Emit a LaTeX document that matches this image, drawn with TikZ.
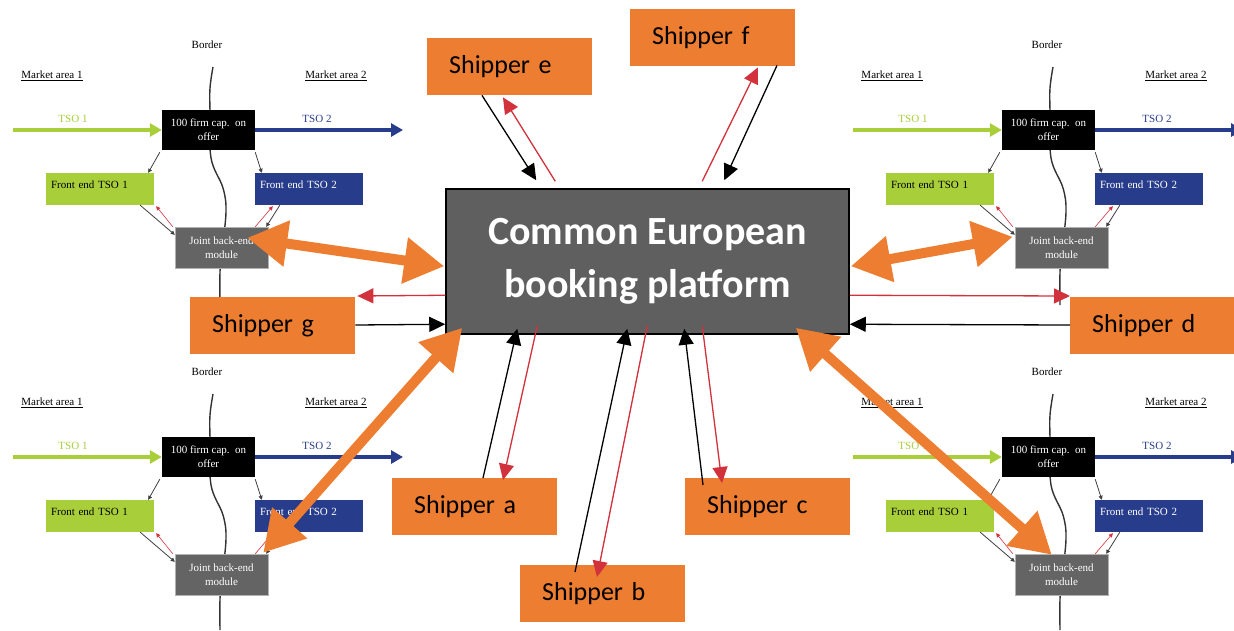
\documentclass[tikz,border=0pt]{standalone}
\usepackage{fontspec}
\setmainfont{Liberation Serif}
\newfontfamily\calib{Carlito}
\usetikzlibrary{arrows.meta,calc}
\definecolor{og}{HTML}{ED7D31}
\definecolor{lg}{RGB}{168,206,58}
\definecolor{db}{RGB}{40,60,140}
\definecolor{cg}{RGB}{95,95,95}
\definecolor{jg}{RGB}{100,100,100}
\definecolor{rd}{RGB}{210,50,60}
\begin{document}
\begin{tikzpicture}[x=1pt,y=-1pt,
  sm/.style={font=\fontsize{11}{14}\selectfont, inner sep=0pt},
  shipper/.style={fill=og, anchor=north west, minimum height=57pt, text width=121pt,
    inner xsep=22pt, inner ysep=0pt, align=left, font=\calib\fontsize{26}{30}\selectfont},
  blk/.style={draw=black, line width=1.3pt, -{Triangle[length=16pt,width=15pt]}},
  red/.style={draw=rd, line width=1.3pt, -{Triangle[length=16pt,width=15pt]}},
  sblk/.style={draw=black!75, line width=0.8pt, -{Triangle[length=4pt,width=4pt]}},
  sred/.style={draw=rd, line width=0.6pt, -{Triangle[length=4pt,width=4pt]}},
  tso/.style={line width=4pt, -{Triangle[length=12pt,width=13pt]}},
  bline/.style={draw=black!80, line width=1.4pt},
  oarr/.style={draw=og, line width=10pt,
    {Triangle[length=40pt,width=44pt]}-{Triangle[length=40pt,width=44pt]}}]
\useasboundingbox[fill=white] (0,0) rectangle (1234,630);
\clip (0,0) rectangle (1234,630);

\foreach \p/\dx/\dy/\e in {tl/0/0/305,tr/840/0/305,bl/0/327/303,br/840/327/303}{
\begin{scope}[shift={(\dx,\dy)}]
  \draw[bline] plot[smooth, tension=0.6] coordinates {(213,67) (210,88) (210,112) (211,158) (223,188) (226,212) (222,250) (220,272) (220,\e)};
  \node[sm] (\p bord) at (207,45) {Border};
  \node[sm] (\p ma1) at (52,76) {\underline{Market area 1}};
  \node[sm] (\p ma2) at (336,76) {\underline{Market area 2}};
  \node[sm, text=lg] (\p t1) at (73,119) {TSO 1};
  \node[sm, text=db] (\p t2) at (317,119) {TSO 2};
  \node[sm, fill=black, minimum width=93pt, minimum height=40pt, text=white, align=center]
    (\p box) at (208.5,130) {100 firm cap.~~on\\offer};
  \node[sm, fill=lg, minimum height=32pt, text width=98pt, inner xsep=5pt, align=left, text depth=8pt]
    (\p fe1) at (100,189) {Front end TSO 1};
  \node[sm, fill=db, minimum height=32pt, text width=98pt, inner xsep=5pt, align=left, text depth=8pt, text=white]
    (\p fe2) at (309,189) {Front end TSO 2};
  \node[sm, fill=jg, draw=black!30, minimum width=93pt, minimum height=41pt, text=white!90, align=center]
    (\p jbm) at (221.5,247.5) {Joint back-end\\module};
  \coordinate (\p tsos) at (13,130);
  \coordinate (\p tsoe) at (403,130);
  \draw[tso, lg] (\p tsos) -- (\p box.west);
  \draw[tso, db] (\p box.east) -- (\p tsoe);
  \draw[sblk] ($(\p box.south west)+(-2,2)$) -- ($(\p fe1.north east)+(-6,0)$);
  \draw[sblk] ($(\p box.south east)+(0,2)$) -- ($(\p fe2.north west)+(7,0)$);
  \draw[sblk] ($(\p fe1.south east)+(-14,0)$) -- ($(\p jbm.north west)+(0,8)$);
  \draw[sred] ($(\p jbm.north west)+(-2,0)$) -- ($(\p fe1.south east)+(2,1)$);
  \draw[sblk] ($(\p fe2.south west)+(25,0)$) -- ($(\p jbm.north east)+(-2,0)$);
  \draw[sred] ($(\p jbm.north east)+(-13,0)$) -- ($(\p fe2.south west)+(18,1)$);
\end{scope}
}

\node[draw=black, line width=1.5pt, fill=cg, minimum width=403pt, minimum height=145pt,
  text=white, align=center, font=\calib\bfseries\fontsize{40}{53}\selectfont]
  (cebp) at (647.5,261.5) {Common European\\booking platform};

\node[shipper] (se) at (427,38) {Shipper e};
\node[shipper] (sf) at (630,9) {Shipper f};
\node[shipper] (sg) at (190,297) {Shipper g};
\node[shipper] (sd) at (1070,297) {Shipper d};
\node[shipper] (sa) at (392,478) {Shipper a};
\node[shipper] (sb) at (520,565) {Shipper b};
\node[shipper] (sc) at (685,478) {Shipper c};

% shipper e
\draw[blk] ($(se.south west)+(55,0)$) -- ($(cebp.north west)+(91,-8)$);
\draw[red] ($(cebp.north west)+(110,-7)$) -- ($(se.south west)+(76,2)$);
% shipper f
\draw[red] ($(cebp.north west)+(257,-7)$) -- ($(sf.south west)+(128,1)$);
\draw[blk] ($(sf.south west)+(147,-1)$) -- ($(cebp.north west)+(279,-8)$);
% shipper g
\draw[red] ($(cebp.north west)+(0,107)$) -- ($(sg.north east)+(2,-1)$);
\draw[blk] ($(sg.north east)+(0,28)$) -- ($(cebp.north west)+(0,136)$);
% shipper d
\draw[red] ($(cebp.north east)+(0,107)$) -- ($(sd.north west)+(0,-1)$);
\draw[blk] ($(sd.north west)+(0,28)$) -- ($(cebp.north east)+(0,136)$);
% shipper a
\draw[blk] ($(sa.north west)+(91,0)$) -- ($(cebp.south west)+(72,-6)$);
\draw[red] ($(cebp.south west)+(92,-9)$) -- ($(sa.north west)+(111,2)$);
% shipper b
\draw[blk] ($(sb.north west)+(55,7)$) -- ($(cebp.south west)+(182,-6)$);
\draw[red] ($(cebp.south west)+(202,-9)$) -- ($(sb.north west)+(77,12)$);
% shipper c
\draw[blk] ($(sc.north west)+(18,7)$) -- ($(cebp.south west)+(239,-6)$);
\draw[red] ($(cebp.south west)+(257,-9)$) -- ($(sc.north west)+(37,5)$);

% orange double arrows
\draw[oarr] ($(tljbm.north east)+(-21,11)$) -- ($(cebp.north west)+(-1,78)$);
\draw[oarr] ($(cebp.north east)+(1,78)$) -- ($(trjbm.north west)+(-2,10)$);
\draw[oarr] ($(bljbm.north east)+(-5,-1)$) -- ($(cebp.south west)+(17,-7)$);
\draw[oarr] ($(cebp.south east)+(-54,-7)$) -- ($(brjbm.north west)+(37,1)$);
\end{tikzpicture}
\end{document}
